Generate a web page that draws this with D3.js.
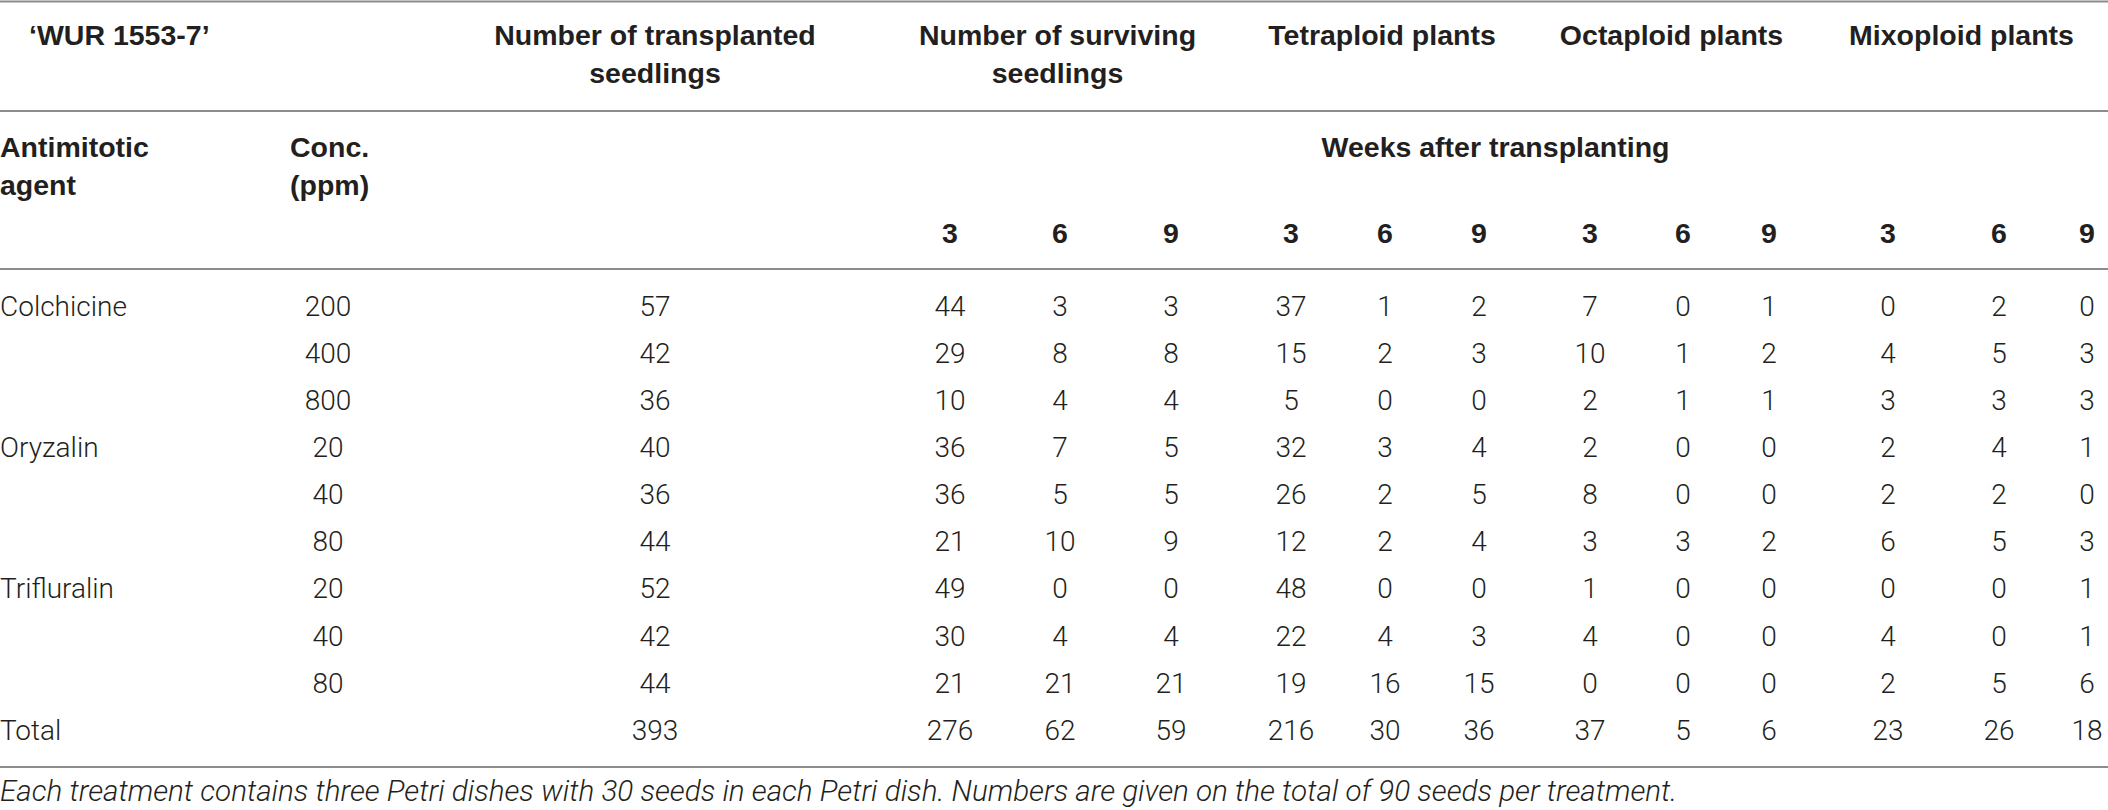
<!DOCTYPE html>
<html>
<head>
<meta charset="utf-8">
<script src="https://cdn.jsdelivr.net/npm/d3@7"></script>
<style>
    body { margin: 0; background: #fff; }
    svg { display: block; }
    .hd { font-family: "Liberation Sans", Arial, sans-serif; font-weight: bold; font-size: 28.5px; fill: #231f20; }
    .bd { font-family: Roboto, "Liberation Sans", sans-serif; font-weight: 300; font-size: 28px; fill: #231f20; }
    .note { font-family: Roboto, "Liberation Sans", sans-serif; font-weight: 300; font-style: italic; font-size: 26px; fill: #231f20; }
    .rule { stroke: #8c8c8c; stroke-width: 2; }
</style>
</head>
<body>
<div id="chart"></div>
<script>
/*
    Table: ploidy of 'WUR 1553-7' seedlings after antimitotic treatment
 */

// ---- table values ----
const agents = ["Colchicine", "", "", "Oryzalin", "", "", "Trifluralin", "", "", "Total"];
const concentrations = ["200", "400", "800", "20", "40", "80", "20", "40", "80", ""];
const transplanted = [57, 42, 36, 40, 36, 44, 52, 42, 44, 393];
const weeks = [3, 6, 9];
const surviving = [[44, 3, 3], [29, 8, 8], [10, 4, 4], [36, 7, 5], [36, 5, 5], [21, 10, 9], [49, 0, 0], [30, 4, 4], [21, 21, 21], [276, 62, 59]];
const tetraploid = [[37, 1, 2], [15, 2, 3], [5, 0, 0], [32, 3, 4], [26, 2, 5], [12, 2, 4], [48, 0, 0], [22, 4, 3], [19, 16, 15], [216, 30, 36]];
const octaploid = [[7, 0, 1], [10, 1, 2], [2, 1, 1], [2, 0, 0], [8, 0, 0], [3, 3, 2], [1, 0, 0], [4, 0, 0], [0, 0, 0], [37, 5, 6]];
const mixoploid = [[0, 2, 0], [4, 5, 3], [3, 3, 3], [2, 4, 1], [2, 2, 0], [6, 5, 3], [0, 0, 1], [4, 0, 1], [2, 5, 6], [23, 26, 18]];
const groupTitles = [
    ["Number of surviving", "seedlings"],
    ["Tetraploid plants"],
    ["Octaploid plants"],
    ["Mixoploid plants"]
];
const cultivar = "\u2018WUR 1553-7\u2019";
const footnote = "Each treatment contains three Petri dishes with 30 seeds in each Petri dish. Numbers are given on the total of 90 seeds per treatment.";

// ---- layout ----
const WIDTH = 2108, HEIGHT = 810;
const NOTE_WIDTH = 1678; // footnote runs to about here in the original
const groups = [surviving, tetraploid, octaploid, mixoploid];
const colKeys = ["conc", "trans"];
groups.forEach((g, gi) => weeks.forEach(w => colKeys.push(`g${gi}w${w}`)));

let colX = d3.scaleOrdinal()
    .domain(colKeys)
    .range([328, 655, 950, 1060, 1171, 1291, 1385, 1479, 1590, 1683, 1769, 1888, 1999, 2087]);

let rowY = d3.scalePoint()
    .domain(d3.range(agents.length))
    .range([306, 730]);

// group header centres sit slightly left of the column midpoints
const groupShift = [-3, -3, -8, -26];

const svg = d3.select("#chart").append("svg")
    .attr("width", WIDTH)
    .attr("height", HEIGHT);

// horizontal rules
svg.selectAll("line.rule")
    .data([1.5, 111, 269, 767])
    .enter().append("line")
    .attr("class", "rule")
    .attr("x1", 0).attr("x2", WIDTH)
    .attr("y1", d => d).attr("y2", d => d);

function addText(cls, x, y, str, anchor) {
    return svg.append("text")
        .attr("class", cls)
        .attr("x", x)
        .attr("y", y)
        .attr("dy", "0.35em")
        .attr("text-anchor", anchor || "middle")
        .text(str);
}

// header row 1
addText("hd", 29, 35, cultivar, "start");
addText("hd", colX("trans"), 35, "Number of transplanted");
addText("hd", colX("trans"), 73, "seedlings");
groupTitles.forEach((lines, gi) => {
    let cx = (colX(`g${gi}w3`) + colX(`g${gi}w9`)) / 2 + groupShift[gi];
    lines.forEach((t, li) => addText("hd", cx, 35 + li * 38, t));
});

// header row 2
addText("hd", 0, 147, "Antimitotic", "start");
addText("hd", 0, 185, "agent", "start");
addText("hd", 290, 147, "Conc.", "start");
addText("hd", 290, 185, "(ppm)", "start");
addText("hd", (colX("g0w3") + colX("g3w9")) / 2 - 23, 147, "Weeks after transplanting");

// week numbers
groups.forEach((g, gi) => {
    weeks.forEach(w => addText("hd", colX(`g${gi}w${w}`), 233, w));
});

// body rows
agents.forEach((a, i) => {
    if (a) addText("bd", 0, rowY(i), a, "start");
    if (concentrations[i]) addText("bd", colX("conc"), rowY(i), concentrations[i]);
    addText("bd", colX("trans"), rowY(i), transplanted[i]);
});

groups.forEach((g, gi) => {
    let cells = [];
    g.forEach((row, ri) => row.forEach((v, wi) => cells.push({ row: ri, key: `g${gi}w${weeks[wi]}`, value: v })));
    svg.selectAll(`text.cell-g${gi}`)
        .data(cells)
        .enter().append("text")
        .attr("class", `bd cell-g${gi}`)
        .attr("x", d => colX(d.key))
        .attr("y", d => rowY(d.row))
        .attr("dy", "0.35em")
        .attr("text-anchor", "middle")
        .text(d => d.value);
});

// footnote, sized so it spans the same width as in the original
let note = addText("note", 0, 791, footnote, "start");
let len = note.node().getComputedTextLength();
if (len > 0) {
    let fs = Math.min(30, 26 * NOTE_WIDTH / len);
    note.style("font-size", fs + "px");
}
</script>
</body>
</html>
